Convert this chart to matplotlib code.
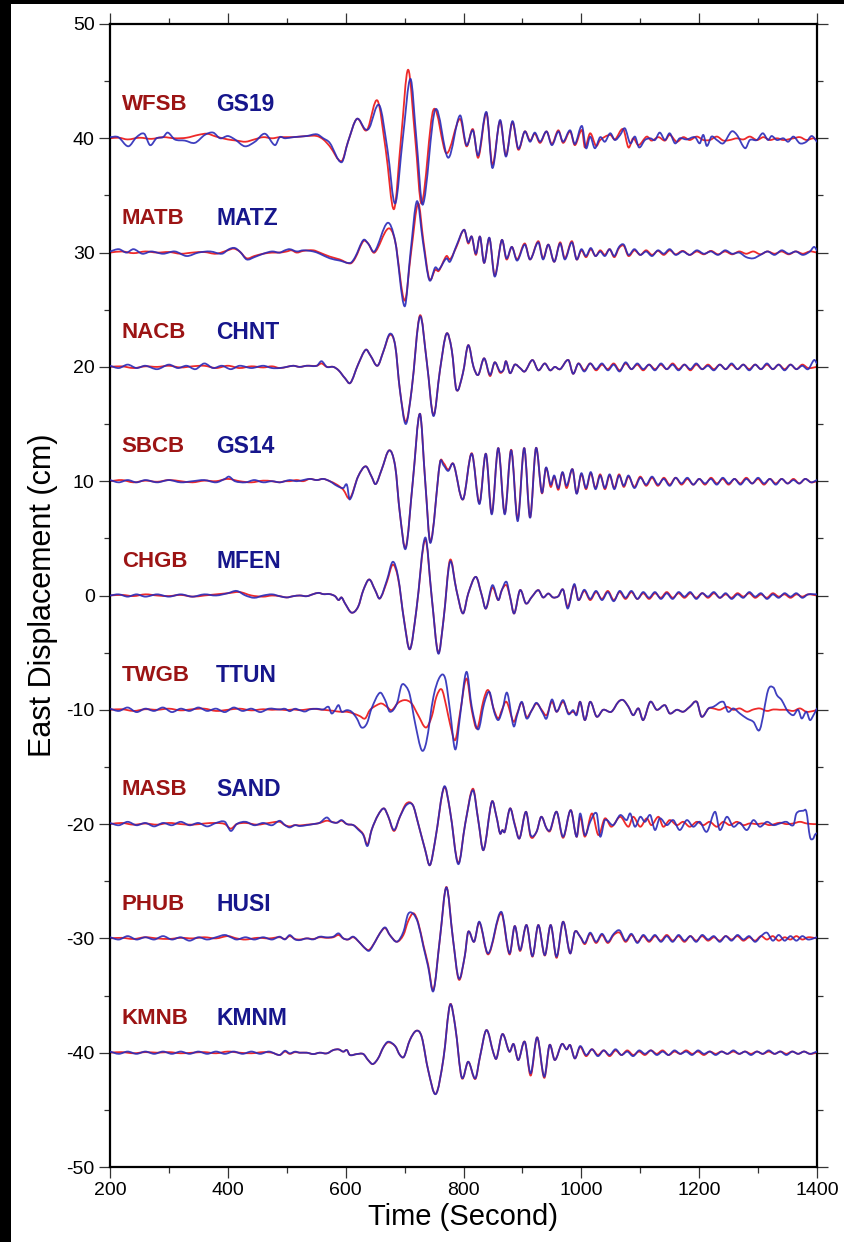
import matplotlib
matplotlib.use("Agg")
import matplotlib.pyplot as plt
import matplotlib.patches as mpatches
from matplotlib.path import Path
from matplotlib.ticker import MultipleLocator

plt.rcParams['font.family'] = ['Liberation Sans', 'DejaVu Sans']
plt.rcParams['axes.unicode_minus'] = False

# ---------------- data (time s, displacement cm relative to the trace baseline) -------------
offsets = [40, 30, 20, 10, 0, -10, -20, -30, -40]
red_names = ['WFSB', 'MATB', 'NACB', 'SBCB', 'CHGB', 'TWGB', 'MASB', 'PHUB', 'KMNB']
blue_names = ['GS19', 'MATZ', 'CHNT', 'GS14', 'MFEN', 'TTUN', 'SAND', 'HUSI', 'KMNM']

wfsb = [(200,0.0),(215,0.05),(230,-0.1),(250,0.05),(270,-0.05),(290,0.1),(310,0.0),(330,0.05),(350,0.3),(365,0.4),(380,0.15),(400,-0.1),(415,-0.2),(430,-0.3),(445,-0.1),(460,0.1),(475,0.0),
        (488,0.1),(511,0.1),(534,0.2),(551,0.2),(562,-0.1),(573,-0.7),(593,-2.0),(604,-0.3),(619,1.7),(633,0.7),(638,0.9),(654,3.3),(668,-1.0),(682,-6.2),(694,0.0),(706,6.0),(718,0.0),(729,-5.7),(749,2.5),(771,-1.3),(794,1.7),(805,-0.7),(816,0.8),(825,-1.7),(839,2.2),(849,-2.3),(862,1.5),(872,-1.5),(883,1.4),(893,-1.0),(904,0.6),(913,-0.2),(921,0.4),(930,-0.4),(941,0.6),(950,-0.5),(961,0.7),(969,-0.4),(981,0.6),(989,-0.6),
        (1001,0.73),(1006,-0.8),(1015,0.44),(1025,-0.67),(1032,-0.15),(1049,0.3),(1057,-0.1),(1071,0.8),(1080,-0.8),(1088,0.0),(1097,-0.6),(1111,0.15),(1119,-0.2),(1131,0.1),(1142,-0.2),(1150,0.3),(1162,-0.3),(1173,0.1),(1184,-0.15),(1196,0.15),(1207,-0.15),(1218,-0.15),(1230,0.15),(1241,-0.2),(1252,-0.15),(1264,0.0),(1275,-0.1),(1286,0.15),(1298,-0.15),(1309,0.1),(1320,-0.15),(1332,0.0),(1343,-0.15),(1360,0.0),(1371,0.1),(1382,-0.15),(1394,0.0),(1400,-0.15)]
gs19 = [(200,0.1),(214,0.1),(231,-0.7),(245,0.1),(258,0.4),(268,-0.6),(279,0.0),(290,0.1),(298,0.5),(310,-0.1),(327,-0.2),(344,-0.4),(361,0.3),(375,0.5),(387,0.0),(400,0.2),(412,-0.1),(429,-0.7),(446,-0.3),(463,0.4),(480,-0.6),
        (488,0.1),(497,0.0),(511,0.1),(534,0.2),(551,0.35),(562,0.0),(573,-0.4),(593,-2.1),(604,-0.3),(619,1.7),(633,0.8),(640,0.9),(657,2.9),(671,-1.0),(684,-5.7),(697,0.0),(710,5.2),(720,0.0),(731,-5.8),(752,2.5),(774,-1.7),(794,2.0),(805,-0.6),(816,0.7),(825,-1.5),(839,2.3),(849,-2.6),(862,1.6),(872,-1.6),(883,1.5),(893,-0.9),(904,0.6),(913,-0.3),(921,0.5),(930,-0.3),(941,0.6),(950,-0.6),(961,0.6),(969,-0.3),(981,0.7),(989,-0.5),
        (1001,1.08),(1008,-0.87),(1015,0.15),(1023,-0.87),(1032,0.1),(1040,-0.3),(1049,0.44),(1057,-0.15),(1066,0.3),(1074,0.87),(1083,-0.44),(1091,0.15),(1098,-0.8),(1108,-0.15),(1117,0.0),(1125,-0.15),(1133,0.5),(1142,-0.15),(1150,0.44),(1159,-0.44),(1167,0.0),(1179,-0.1),(1193,0.1),(1201,-0.44),(1207,0.3),(1213,-0.67),(1221,0.15),(1230,-0.15),(1241,-0.44),(1255,0.6),(1264,0.3),(1278,-0.87),(1286,-0.15),(1298,-0.15),(1308,0.44),(1317,-0.15),(1323,0.2),(1332,-0.15),(1343,0.0),(1351,-0.3),(1360,0.15),(1371,-0.44),(1382,-0.3),(1391,0.2),(1400,-0.3)]

matb = [(200,0.0),(220,0.1),(240,-0.05),(260,0.1),(280,0.0),(300,0.05),(320,-0.1),(340,0.0),(360,0.05),(380,-0.1),(400,0.2),(410,0.35),(420,0.1),(432,-0.5),(445,-0.3),(460,-0.1),(475,0.0),
        (488,0.0),(500,0.1),(508,0.2),(517,0.0),(528,0.15),(545,0.2),(556,0.0),(573,-0.35),(590,-0.6),(608,-0.95),(616,-0.5),(630,1.0),(638,0.8),(649,0.0),(672,2.1),(684,1.0),(700,-4.2),(711,0.0),(723,4.3),(732,1.0),(742,-2.3),(752,-1.5),(758,-1.6),(771,-0.3),(777,-0.6),(788,0.5),(801,2.0),(808,0.8),(814,1.4),(821,-0.2),(828,1.4),(835,-0.9),(844,1.25),(853,-2.0),(865,1.1),(873,-0.6),(882,0.5),(891,-0.6),(904,0.8),(913,-0.6),(927,1.0),(935,-0.5),(944,0.7),(954,-0.8),(964,0.9),(972,-0.5),(984,1.0),(992,-0.6),
        (1000,0.2),(1008,-0.4),(1016,0.3),(1024,-0.3),(1032,0.2),(1040,-0.2),(1048,0.3),(1056,-0.4),(1064,0.4),(1072,0.6),(1080,-0.3),(1090,0.2),(1100,-0.2),(1110,0.2),(1120,-0.2),(1130,0.15),(1140,-0.2),(1150,0.2),(1160,-0.15),(1172,0.15),(1184,-0.2),(1196,0.1),(1208,-0.15),(1220,0.15),(1232,-0.15),(1244,0.1),(1256,-0.15),(1268,0.1),(1280,-0.1),(1292,0.1),(1304,-0.15),(1316,0.1),(1328,-0.1),(1340,0.1),(1352,-0.15),(1364,0.1),(1376,-0.1),(1388,0.1),(1400,0.0)]
matz = [(200,0.1),(215,0.3),(228,0.0),(240,0.3),(255,-0.1),(270,0.1),(290,-0.1),(310,0.1),(330,-0.3),(350,0.0),(370,0.1),(390,-0.1),(402,0.3),(412,0.4),(422,0.0),(432,-0.6),(445,-0.4),(460,-0.1),(475,0.1),
        (488,0.0),(497,0.2),(505,0.3),(517,0.1),(528,0.2),(545,0.1),(556,-0.1),(573,-0.5),(590,-0.7),(608,-0.9),(616,-0.4),(630,1.1),(638,0.8),(649,0.1),(671,2.6),(684,1.0),(700,-4.7),(710,0.0),(721,4.5),(731,1.0),(742,-2.4),(752,-1.3),(758,-1.5),(771,-0.5),(777,-0.8),(788,0.6),(801,2.0),(808,0.9),(814,1.4),(821,-0.1),(828,1.4),(835,-0.9),(844,1.3),(853,-2.1),(865,1.1),(873,-0.5),(882,0.5),(891,-0.7),(904,0.7),(913,-0.6),(927,0.9),(935,-0.6),(944,0.7),(954,-0.8),(964,0.8),(972,-0.6),(984,0.9),(992,-0.6),
        (1000,0.3),(1008,-0.3),(1016,0.4),(1024,-0.3),(1032,0.1),(1040,-0.3),(1048,0.3),(1056,-0.3),(1064,0.5),(1072,0.7),(1080,-0.2),(1090,0.3),(1100,-0.2),(1110,0.1),(1120,-0.3),(1130,0.2),(1140,-0.1),(1150,0.3),(1160,-0.2),(1172,0.1),(1184,-0.2),(1196,0.2),(1208,-0.1),(1220,0.1),(1232,-0.2),(1244,0.2),(1256,-0.1),(1268,0.0),(1280,-0.4),(1292,-0.5),(1304,-0.2),(1316,0.1),(1328,-0.2),(1340,0.2),(1352,-0.1),(1364,0.1),(1376,-0.2),(1388,0.1),(1395,0.5),(1400,0.2)]

nacb = [(200,0.0),(220,0.05),(240,-0.1),(260,0.05),(280,0.0),(300,0.1),(320,-0.05),(340,0.05),(360,0.1),(380,-0.1),(400,0.1),(420,-0.1),(440,0.05),(460,-0.05),(475,0.05),
        (488,-0.1),(500,0.0),(511,0.1),(522,0.0),(534,0.1),(551,0.1),(559,0.3),(568,0.0),(579,0.0),(588,-0.3),(599,-1.0),(608,-1.4),(621,0.2),(634,1.5),(642,1.0),(654,0.1),(664,1.35),(675,2.8),(684,1.9),(692,-2.0),(702,-4.8),(712,-2.0),(726,4.5),(738,0.3),(749,-4.2),(760,-0.3),(771,2.9),(780,1.5),(788,-2.0),(799,-0.55),(808,1.9),(817,0.0),(825,-0.7),(835,0.75),(845,-0.8),(853,0.4),(862,-0.5),(868,-0.25),(872,0.5),(879,-0.55),(887,0.2),(896,-0.1),(904,-0.4),(917,0.6),(927,-0.3),(938,0.3),(947,-0.3),(955,0.0),(964,-0.2),(978,0.6),(986,-0.6),(995,0.3),
        (1005,-0.3),(1015,0.3),(1025,-0.3),(1035,0.2),(1045,-0.2),(1055,0.3),(1065,-0.3),(1075,0.3),(1085,-0.2),(1095,0.2),(1105,-0.3),(1115,0.2),(1125,-0.2),(1135,0.2),(1145,-0.2),(1155,0.3),(1165,-0.2),(1175,0.2),(1185,-0.3),(1195,0.2),(1205,-0.2),(1215,0.2),(1225,-0.2),(1235,0.2),(1245,-0.2),(1255,0.2),(1265,-0.2),(1275,0.2),(1285,-0.2),(1295,0.2),(1305,-0.2),(1315,0.2),(1325,-0.2),(1335,0.2),(1345,-0.2),(1355,0.2),(1365,-0.2),(1375,0.2),(1385,-0.1),(1400,0.0)]
chnt = [(200,0.1),(215,-0.1),(230,0.2),(245,-0.1),(260,0.1),(280,-0.2),(300,0.2),(315,-0.1),(330,0.1),(345,-0.2),(360,0.3),(375,-0.1),(390,0.1),(405,-0.2),(420,0.1),(440,-0.1),(460,0.1),(475,-0.1),
        (488,-0.1),(500,0.0),(511,0.1),(522,0.0),(534,0.1),(551,0.1),(559,0.5),(568,0.0),(579,0.0),(588,-0.3),(599,-1.0),(608,-1.4),(621,0.2),(634,1.5),(642,1.0),(654,0.1),(664,1.35),(675,2.9),(684,1.9),(692,-2.0),(702,-5.0),(712,-2.0),(726,4.4),(738,0.3),(749,-4.3),(760,-0.3),(771,2.9),(780,1.5),(788,-2.0),(799,-0.55),(808,1.9),(817,0.0),(825,-0.7),(835,0.75),(845,-0.7),(853,0.4),(862,-0.4),(868,-0.25),(872,0.5),(879,-0.55),(887,0.2),(896,-0.1),(904,-0.4),(917,0.6),(927,-0.3),(938,0.3),(947,-0.3),(955,0.0),(964,-0.2),(978,0.6),(986,-0.6),(995,0.3),
        (1005,-0.4),(1015,0.3),(1025,-0.2),(1035,0.3),(1045,-0.3),(1055,0.2),(1065,-0.4),(1075,0.4),(1085,-0.2),(1095,0.3),(1105,-0.2),(1115,0.2),(1125,-0.3),(1135,0.3),(1145,-0.2),(1155,0.2),(1165,-0.3),(1175,0.2),(1185,-0.2),(1195,0.3),(1205,-0.2),(1215,0.1),(1225,-0.3),(1235,0.2),(1245,-0.2),(1255,0.3),(1265,-0.2),(1275,0.2),(1285,-0.3),(1295,0.2),(1305,-0.2),(1315,0.3),(1325,-0.2),(1335,0.2),(1345,-0.3),(1355,0.2),(1365,-0.2),(1375,0.1),(1385,-0.2),(1395,0.6),(1400,0.3)]

sbcb = [(200,0.0),(220,0.1),(240,-0.1),(260,0.05),(280,-0.05),(300,0.1),(320,0.0),(340,-0.1),(360,0.05),(380,0.0),(400,0.2),(420,0.0),(440,-0.1),(460,0.05),(475,0.0),
        (488,-0.1),(497,0.0),(505,0.0),(517,0.1),(528,0.0),(539,0.2),(551,0.1),(562,0.2),(573,0.0),(585,-0.3),(596,-0.75),(607,-1.5),(621,0.4),(634,1.3),(644,0.4),(651,-0.25),(661,1.0),(674,2.7),(684,1.3),(692,-2.8),(702,-5.8),(714,0.0),(726,5.9),(735,0.0),(744,-5.3),(760,1.6),(766,1.6),(774,1.0),(783,1.5),(799,-1.6),(814,2.45),(827,-1.9),(838,2.4),(848,-2.8),(859,2.9),(870,-2.8),(881,2.75),(892,-3.3),(903,2.9),(913,-3.15),(923,2.9),(933,-1.05),(940,1.15),(948,-0.5),(954,0.4),(961,-0.75),(968,0.75),(975,-0.6),(985,1.05),(992,-1.05),
        (1000,0.6),(1008,-0.7),(1016,0.7),(1024,-0.6),(1032,0.6),(1040,-0.7),(1048,0.5),(1056,-0.6),(1064,0.6),(1072,-0.5),(1080,0.4),(1090,-0.5),(1100,0.4),(1110,-0.4),(1120,0.3),(1130,-0.4),(1140,0.3),(1150,-0.3),(1160,0.3),(1170,-0.3),(1180,0.2),(1190,-0.3),(1200,0.2),(1210,-0.3),(1220,0.3),(1230,-0.2),(1240,0.2),(1250,-0.3),(1260,0.2),(1270,-0.2),(1280,0.3),(1290,-0.2),(1300,0.2),(1310,-0.3),(1320,0.2),(1330,-0.2),(1340,0.2),(1350,-0.2),(1360,0.2),(1370,-0.2),(1380,0.2),(1390,-0.1),(1400,0.0)]
gs14 = [(200,0.1),(215,-0.1),(230,0.1),(245,-0.1),(260,0.1),(280,-0.1),(300,0.1),(320,-0.1),(340,0.0),(360,0.1),(380,-0.1),(395,0.2),(402,0.4),(412,0.0),(430,-0.1),(445,0.1),(460,-0.1),(475,0.0),
        (488,-0.1),(497,0.0),(505,0.1),(517,0.0),(528,0.1),(539,0.2),(551,0.1),(562,0.2),(573,0.0),(585,-0.4),(596,-0.6),(602,-0.3),(607,-1.6),(621,0.4),(634,1.3),(644,0.4),(651,-0.25),(661,1.0),(674,2.7),(684,1.3),(692,-2.8),(702,-5.9),(714,0.0),(726,5.9),(735,0.0),(744,-5.4),(760,1.6),(766,1.4),(774,0.9),(783,1.5),(799,-1.6),(814,2.4),(827,-2.0),(838,2.4),(848,-2.9),(859,2.9),(870,-2.9),(881,2.7),(892,-3.5),(903,2.9),(913,-3.2),(923,2.9),(933,-1.0),(940,1.2),(948,-0.3),(954,0.5),(961,-0.6),(968,0.8),(975,-0.4),(985,1.05),(992,-1.1),
        (1000,0.7),(1008,-0.6),(1016,0.8),(1024,-0.7),(1032,0.5),(1040,-0.6),(1048,0.6),(1056,-0.7),(1064,0.5),(1072,-0.4),(1080,0.5),(1090,-0.6),(1100,0.3),(1110,-0.3),(1120,0.4),(1130,-0.3),(1140,0.2),(1150,-0.4),(1160,0.3),(1170,-0.2),(1180,0.3),(1190,-0.3),(1200,0.2),(1210,-0.2),(1220,0.2),(1230,-0.3),(1240,0.3),(1250,-0.2),(1260,0.2),(1270,-0.3),(1280,0.2),(1290,-0.2),(1300,0.3),(1310,-0.2),(1320,0.2),(1330,-0.3),(1340,0.2),(1350,-0.2),(1360,0.1),(1370,-0.2),(1380,0.2),(1390,-0.1),(1400,0.1)]

chgb = [(200,0.0),(220,0.05),(240,-0.05),(260,0.1),(280,0.0),(300,-0.05),(320,0.05),(340,-0.1),(360,0.0),(380,0.1),(400,0.2),(420,0.3),(440,0.0),(460,-0.1),(475,0.0),
        (488,-0.06),(500,-0.17),(511,-0.06),(522,0.0),(534,-0.06),(545,0.12),(554,0.23),(562,0.12),(573,0.12),(582,-0.06),(588,-0.4),(593,-0.17),(599,-0.7),(610,-1.5),(621,-1.0),(630,0.47),(640,1.4),(650,0.47),(658,-0.26),(670,1.2),(680,2.7),(689,1.5),(699,-2.1),(709,-4.7),(720,-1.28),(735,4.9),(746,-0.12),(757,-5.0),(766,-2.16),(777,3.1),(788,0.47),(799,-1.57),(808,0.17),(821,1.63),(831,0.03),(838,-1.14),(849,0.7),(859,-0.4),(865,0.47),(873,0.9),(879,-0.12),(886,-1.57),(896,0.47),(906,-0.7),(916,-0.12),(927,0.47),(935,-0.17),(944,0.17),(952,-0.17),(961,-0.06),(969,0.52),(977,-1.0),(988,0.9),(995,-0.4),
        (1005,0.4),(1015,-0.4),(1025,0.3),(1035,-0.3),(1045,0.4),(1055,-0.4),(1065,0.3),(1075,-0.3),(1085,0.3),(1095,-0.3),(1105,0.2),(1115,-0.3),(1125,0.2),(1135,-0.2),(1145,0.3),(1155,-0.2),(1165,0.2),(1175,-0.2),(1185,0.2),(1195,-0.2),(1205,0.2),(1215,-0.2),(1225,0.2),(1235,-0.2),(1245,0.1),(1255,-0.2),(1265,0.2),(1275,-0.1),(1285,0.2),(1295,-0.2),(1305,0.1),(1315,-0.2),(1325,0.2),(1335,-0.1),(1345,0.1),(1355,-0.2),(1365,0.1),(1375,-0.1),(1385,0.1),(1400,0.0)]
mfen = [(200,0.0),(215,0.1),(230,-0.1),(245,0.1),(260,-0.1),(280,0.1),(300,-0.1),(320,0.1),(340,-0.1),(360,0.1),(380,0.0),(400,0.2),(415,0.4),(430,0.0),(445,-0.2),(460,0.0),(475,0.1),
        (488,-0.06),(500,-0.17),(511,-0.06),(522,0.0),(534,-0.06),(545,0.12),(554,0.23),(562,0.12),(573,0.12),(582,-0.06),(588,-0.4),(593,-0.17),(599,-0.7),(610,-1.5),(621,-1.0),(630,0.47),(640,1.4),(650,0.47),(658,-0.26),(670,1.34),(680,2.95),(689,1.63),(699,-2.16),(709,-4.7),(720,-1.28),(735,5.07),(746,-0.12),(757,-5.07),(766,-2.16),(777,2.95),(788,0.47),(799,-1.57),(808,0.17),(821,1.63),(831,0.03),(838,-1.14),(849,0.9),(859,-0.4),(865,0.47),(873,1.2),(879,-0.12),(886,-1.57),(896,0.47),(906,-0.7),(916,-0.12),(927,0.47),(935,-0.17),(944,0.17),(952,-0.17),(961,-0.06),(969,0.52),(977,-1.14),(988,1.0),(995,-0.4),
        (1005,0.5),(1015,-0.3),(1025,0.4),(1035,-0.4),(1045,0.3),(1055,-0.5),(1065,0.4),(1075,-0.2),(1085,0.4),(1095,-0.3),(1105,0.3),(1115,-0.2),(1125,0.3),(1135,-0.3),(1145,0.2),(1155,-0.3),(1165,0.3),(1175,-0.1),(1185,0.3),(1195,-0.3),(1205,0.2),(1215,-0.1),(1225,0.3),(1235,-0.2),(1245,0.2),(1255,-0.3),(1265,0.1),(1275,-0.2),(1285,0.3),(1295,-0.1),(1305,0.2),(1315,-0.3),(1325,0.1),(1335,-0.2),(1345,0.2),(1355,-0.1),(1365,0.2),(1375,-0.2),(1385,0.1),(1400,0.1)]

twgb = [(200,0.0),(220,0.05),(240,-0.1),(260,0.05),(280,0.0),(300,0.1),(320,-0.05),(340,0.05),(360,0.1),(380,-0.1),(400,0.0),(420,0.1),(440,-0.05),(460,0.05),(475,0.0),
        (488,0.03),(500,-0.03),(511,0.03),(522,-0.03),(534,0.03),(545,0.09),(556,0.03),(568,-0.03),(579,-0.09),(590,-0.17),(602,-0.17),(613,-0.32),(624,-0.55),(633,-0.76),(641,-0.03),(653,0.41),(661,0.55),(670,0.26),(678,-0.03),(689,0.61),(701,0.85),(712,0.55),(723,-0.47),(736,-1.55),(746,-0.61),(754,1.14),(763,1.78),(771,0.26),(777,-1.2),(786,-2.65),(794,-0.32),(805,2.74),(814,-0.03),(823,-1.63),(834,0.85),(842,1.72),(851,0.12),(859,-0.76),(865,-0.03),(873,0.7),(885,-1.05),(891,-0.32),(899,0.61),(907,-0.61),(916,-0.03),(924,0.55),(933,-0.03),(941,-0.47),(950,0.7),(958,-0.17),(969,0.7),(978,-0.26),(986,-0.17),(992,-0.32),
        (998,0.7),(1006,-0.9),(1015,0.7),(1026,-0.6),(1037,0.0),(1051,-0.17),(1063,0.7),(1071,0.85),(1080,0.26),(1088,-0.47),(1097,0.12),(1105,-0.9),(1117,0.7),(1128,0.0),(1142,0.4),(1150,-0.32),(1162,0.0),(1173,-0.17),(1184,0.26),(1196,0.7),(1204,-0.6),(1216,0.12),(1224,0.12),(1235,0.0),(1247,0.26),(1258,0.0),(1269,0.12),(1281,-0.17),(1292,0.03),(1303,0.12),(1315,-0.1),(1326,0.03),(1337,0.0),(1348,0.0),(1360,-0.1),(1371,0.12),(1382,-0.17),(1394,-0.1),(1400,0.0)]
ttun = [(200,0.1),(215,-0.1),(230,0.2),(245,-0.2),(260,0.1),(275,-0.1),(290,0.2),(305,-0.2),(320,0.1),(335,-0.1),(350,0.2),(365,-0.1),(380,0.1),(395,-0.2),(410,0.2),(425,-0.1),(440,0.1),(455,-0.2),(470,0.1),
        (488,0.03),(497,0.09),(505,-0.12),(514,0.09),(522,-0.03),(531,-0.15),(539,0.03),(551,0.09),(562,0.03),(571,0.26),(576,-0.32),(582,-0.03),(588,0.41),(593,-0.17),(602,-0.03),(610,-0.17),(619,-0.76),(627,-1.55),(636,-1.2),(644,0.12),(658,1.49),(667,0.85),(675,-0.17),(687,0.55),(695,2.16),(703,2.0),(709,1.28),(718,-1.2),(729,-3.53),(737,-2.8),(749,1.14),(760,2.89),(769,2.74),(777,-0.03),(786,-3.47),(794,-0.61),(805,3.32),(814,0.26),(825,-1.72),(835,0.55),(844,1.57),(852,-0.17),(859,-0.9),(866,-0.03),(874,1.49),(885,-1.43),(891,-0.47),(899,0.7),(907,-0.76),(916,-0.03),(924,0.61),(935,-0.32),(941,-0.76),(950,0.9),(958,-0.17),(969,0.85),(978,-0.38),(986,-0.03),(992,-0.47),
        (998,0.7),(1006,-0.9),(1015,0.7),(1026,-0.6),(1037,0.0),(1051,-0.17),(1063,0.7),(1071,0.85),(1080,0.26),(1088,-0.47),(1097,0.12),(1105,-0.9),(1117,0.7),(1128,0.0),(1142,0.4),(1150,-0.32),(1162,0.0),(1173,-0.17),(1184,0.26),(1196,0.7),(1204,-0.6),(1216,0.12),(1224,0.26),(1241,0.7),(1249,-0.17),(1258,0.12),(1269,-0.32),(1281,-0.76),(1292,-1.05),(1303,-1.72),(1317,1.72),(1326,1.95),(1332,1.28),(1340,0.85),(1346,0.26),(1351,-0.17),(1360,-0.47),(1368,0.0),(1374,-0.76),(1382,-0.17),(1388,-0.9),(1394,-0.47),(1400,0.12)]

masb = [(200,0.0),(220,0.1),(240,-0.05),(260,0.05),(280,-0.05),(300,0.1),(320,0.0),(340,-0.05),(360,0.05),(380,0.1),(395,0.0),(405,-0.4),(415,0.0),(430,0.1),(450,-0.05),(470,0.1),
        (488,0.2),(497,-0.09),(505,-0.2),(514,-0.09),(522,-0.12),(534,-0.05),(545,0.0),(556,0.1),(568,0.3),(576,0.2),(585,0.12),(593,0.3),(602,0.0),(613,-0.09),(621,-0.4),(630,-0.9),(637,-1.8),(644,-0.52),(655,0.79),(665,1.37),(672,0.7),(682,-0.6),(692,0.64),(703,1.8),(714,1.66),(723,0.06),(735,-2.27),(743,-3.59),(752,-1.4),(767,3.2),(777,1.22),(791,-3.4),(803,0.06),(816,3.1),(825,0.35),(834,-2.27),(848,1.95),(856,0.64),(862,-0.82),(866,-0.52),(870,-0.67),(879,1.37),(887,0.0),(895,-1.25),(906,1.08),(914,-1.1),(924,-0.67),(932,0.64),(941,-0.38),(947,-0.6),(958,1.08),(969,-1.2),(982,1.22),(992,-1.11),
        (998,0.64),(1006,-1.1),(1018,0.93),(1029,-0.96),(1040,0.5),(1051,-0.23),(1066,0.64),(1080,-0.23),(1088,0.64),(1100,-0.23),(1111,0.5),(1119,-0.09),(1131,0.64),(1139,-0.23),(1150,0.35),(1162,-0.09),(1173,0.2),(1184,-0.23),(1196,0.2),(1207,-0.09),(1218,0.2),(1230,-0.23),(1241,0.2),(1252,-0.09),(1264,0.2),(1275,-0.09),(1286,0.06),(1298,0.0),(1309,0.06),(1320,-0.09),(1337,0.12),(1348,0.0),(1360,0.06),(1371,0.2),(1382,0.06),(1394,0.0),(1400,0.0)]
sand = [(200,0.1),(215,-0.1),(230,0.2),(245,-0.1),(260,0.1),(275,-0.2),(290,0.1),(305,-0.1),(320,0.2),(335,-0.1),(350,0.1),(365,-0.2),(380,0.1),(395,0.2),(405,-0.6),(415,0.0),(430,0.2),(445,-0.1),(460,0.1),(475,-0.1),
        (488,0.29),(497,-0.09),(505,-0.29),(514,-0.09),(522,-0.17),(534,-0.09),(545,0.0),(556,0.12),(568,0.58),(576,0.2),(585,0.12),(593,0.35),(602,0.0),(613,-0.09),(621,-0.47),(630,-0.96),(637,-1.92),(644,-0.52),(655,0.79),(665,1.37),(672,0.7),(682,-0.52),(692,0.64),(703,1.66),(714,1.66),(723,0.06),(735,-2.27),(743,-3.59),(752,-1.4),(767,3.27),(777,1.22),(791,-3.5),(803,0.06),(816,2.97),(825,0.35),(834,-2.27),(848,1.95),(856,0.64),(862,-0.82),(866,-0.52),(870,-0.67),(879,1.37),(887,-0.09),(895,-1.25),(906,1.08),(914,-0.96),(924,-0.67),(932,0.64),(941,-0.38),(947,-0.52),(958,1.08),(969,-1.11),(982,1.22),(992,-1.11),
        (998,0.93),(1006,-0.96),(1015,0.2),(1026,0.93),(1032,-1.1),(1040,0.35),(1054,-0.09),(1066,0.79),(1077,0.35),(1083,0.93),(1091,-0.23),(1100,0.64),(1108,0.2),(1117,0.79),(1125,-0.52),(1133,0.5),(1145,-0.09),(1156,0.35),(1167,-0.52),(1179,0.35),(1190,-0.23),(1201,0.2),(1213,-0.67),(1227,1.08),(1235,-0.52),(1247,0.64),(1258,-0.23),(1269,0.12),(1281,-0.52),(1292,0.35),(1303,-0.23),(1315,0.2),(1326,-0.09),(1337,0.06),(1348,0.2),(1360,-0.09),(1365,0.93),(1377,1.17),(1382,1.08),(1388,-1.1),(1393,-1.3),(1397,-0.9),(1400,-0.8)]

phub = [(200,0.0),(220,0.05),(240,-0.05),(260,0.1),(280,0.0),(300,-0.05),(320,0.05),(340,0.0),(360,0.1),(380,0.0),(400,0.2),(415,0.0),(430,-0.1),(450,0.05),(470,0.0),
        (488,0.1),(497,-0.05),(505,0.2),(514,-0.05),(522,-0.1),(534,0.0),(545,-0.05),(556,0.1),(568,0.05),(579,0.1),(588,0.3),(596,0.0),(604,-0.1),(613,0.1),(624,-0.38),(633,-0.87),(640,-1.0),(650,-0.29),(658,0.44),(667,0.9),(675,0.29),(687,-0.29),(698,0.3),(706,1.5),(715,2.2),(723,1.4),(732,-0.6),(740,-2.3),(749,-4.5),(760,0.0),(771,4.5),(782,0.0),(792,-3.6),(802,-1.6),(808,0.58),(818,-0.29),(827,1.4),(842,-1.4),(864,2.2),(878,-1.4),(887,1.08),(896,-1.1),(907,1.17),(917,-1.6),(927,1.17),(938,-1.5),(948,1.17),(958,-1.7),(969,1.46),(981,-1.31),(989,0.58),(998,0.15),
        (1006,-0.5),(1015,0.4),(1025,-0.4),(1035,0.3),(1045,-0.4),(1055,0.3),(1065,0.5),(1075,-0.3),(1085,0.3),(1095,-0.3),(1105,0.2),(1115,-0.3),(1125,0.2),(1135,-0.2),(1145,0.3),(1155,-0.2),(1165,0.2),(1175,-0.3),(1185,0.2),(1195,-0.2),(1205,0.2),(1215,-0.2),(1225,0.1),(1235,-0.2),(1245,0.2),(1255,-0.1),(1265,0.2),(1275,-0.2),(1285,0.1),(1295,-0.2),(1305,0.2),(1315,-0.1),(1325,0.2),(1335,-0.2),(1345,0.1),(1355,-0.1),(1365,0.2),(1375,-0.1),(1385,0.1),(1400,0.0)]
husi = [(200,0.1),(215,-0.1),(230,0.2),(245,-0.1),(260,0.1),(275,-0.1),(290,0.2),(305,-0.1),(320,0.1),(335,-0.2),(350,0.1),(365,-0.1),(380,0.1),(395,0.3),(405,0.1),(415,-0.1),(430,0.1),(445,-0.1),(460,0.1),(475,-0.1),
        (488,0.15),(497,-0.09),(505,0.29),(514,-0.09),(522,-0.15),(534,0.0),(545,-0.09),(556,0.15),(568,0.09),(579,0.15),(588,0.44),(596,0.0),(604,-0.09),(613,0.15),(624,-0.38),(633,-0.87),(640,-1.08),(650,-0.29),(658,0.44),(667,0.96),(675,0.29),(687,-0.29),(698,0.58),(706,2.13),(715,2.13),(723,1.31),(732,-0.73),(740,-2.48),(749,-4.6),(760,0.0),(771,4.46),(782,0.0),(792,-3.5),(802,-1.6),(808,0.58),(818,-0.29),(827,1.46),(842,-1.31),(864,2.33),(878,-1.31),(887,1.08),(896,-1.02),(907,1.17),(917,-1.55),(927,1.17),(938,-1.46),(948,1.17),(958,-1.6),(969,1.46),(981,-1.31),(989,0.58),(998,0.15),
        (1006,-0.4),(1015,0.5),(1025,-0.3),(1035,0.4),(1045,-0.3),(1055,0.4),(1065,0.7),(1075,-0.2),(1085,0.4),(1095,-0.4),(1105,0.3),(1115,-0.2),(1125,0.3),(1135,-0.3),(1145,0.2),(1155,-0.3),(1165,0.3),(1175,-0.2),(1185,0.2),(1195,-0.3),(1205,0.3),(1215,-0.1),(1225,0.2),(1235,-0.3),(1245,0.2),(1255,-0.2),(1265,0.3),(1275,-0.1),(1285,0.2),(1295,-0.3),(1305,0.2),(1315,0.5),(1325,-0.2),(1335,0.3),(1345,-0.2),(1355,0.2),(1365,-0.2),(1375,0.2),(1385,-0.1),(1400,0.1)]

kmnb = [(200,0.0),(220,0.05),(240,-0.05),(260,0.05),(280,0.0),(300,0.05),(320,-0.05),(340,0.0),(360,0.05),(380,-0.05),(400,0.1),(420,0.0),(440,-0.05),(460,0.05),(475,0.0),
        (488,-0.2),(497,0.1),(505,-0.1),(514,0.05),(522,0.0),(534,0.0),(545,-0.12),(556,0.0),(568,-0.06),(579,0.23),(588,0.29),(596,0.09),(602,0.23),(607,-0.2),(619,-0.12),(630,-0.12),(638,-0.64),(646,-1.0),(655,-0.5),(664,0.47),(672,0.9),(684,0.58),(692,-0.2),(699,-0.35),(709,1.11),(720,1.92),(729,1.4),(740,-1.52),(753,-3.6),(766,-0.5),(777,4.2),(786,2.27),(797,-2.2),(808,-0.79),(820,-2.3),(828,-0.35),(839,1.98),(851,-0.06),(856,-0.5),(866,1.63),(878,0.09),(885,0.76),(893,-0.64),(904,0.96),(914,-2.0),(925,1.34),(937,-2.2),(946,0.67),(955,-0.64),(967,0.76),(975,0.29),(981,0.67),(989,-0.5),(998,0.5),
        (1008,-0.3),(1018,0.3),(1028,-0.2),(1038,0.2),(1048,-0.3),(1058,0.2),(1068,-0.2),(1078,0.2),(1088,-0.2),(1098,0.1),(1108,-0.2),(1118,0.2),(1128,-0.1),(1138,0.2),(1148,-0.2),(1158,0.1),(1168,-0.1),(1178,0.2),(1188,-0.1),(1198,0.1),(1208,-0.2),(1218,0.1),(1228,-0.1),(1238,0.1),(1248,-0.1),(1258,0.1),(1268,-0.1),(1278,0.1),(1288,-0.1),(1298,0.1),(1308,-0.1),(1318,0.1),(1328,-0.1),(1338,0.1),(1348,-0.1),(1358,0.1),(1368,-0.1),(1378,0.1),(1388,-0.1),(1400,0.0)]
kmnm = [(200,0.1),(215,-0.1),(230,0.1),(245,-0.1),(260,0.1),(275,-0.1),(290,0.1),(305,-0.1),(320,0.1),(335,-0.1),(350,0.1),(365,-0.1),(380,0.1),(395,-0.1),(410,0.1),(425,-0.1),(440,0.1),(455,-0.1),(470,0.1),
        (488,-0.2),(497,0.17),(505,-0.06),(514,0.09),(522,0.0),(534,0.0),(545,-0.12),(556,0.0),(568,-0.06),(579,0.23),(588,0.29),(596,0.09),(602,0.23),(607,-0.2),(619,-0.12),(630,-0.12),(638,-0.64),(646,-0.99),(655,-0.5),(664,0.47),(672,0.96),(684,0.58),(692,-0.2),(699,-0.35),(709,1.11),(720,1.92),(729,1.4),(740,-1.52),(753,-3.62),(766,-0.5),(777,4.17),(786,2.27),(797,-2.16),(808,-0.79),(820,-2.25),(828,-0.35),(839,1.98),(851,-0.06),(856,-0.5),(866,1.63),(878,0.09),(885,0.76),(893,-0.64),(904,0.96),(914,-1.81),(925,1.34),(937,-2.1),(946,0.67),(955,-0.64),(967,0.76),(975,0.29),(981,0.67),(989,-0.5),(998,0.58),
        (1008,-0.2),(1018,0.3),(1028,-0.3),(1038,0.2),(1048,-0.2),(1058,0.3),(1068,-0.2),(1078,0.1),(1088,-0.3),(1098,0.2),(1108,-0.1),(1118,0.2),(1128,-0.2),(1138,0.1),(1148,-0.2),(1158,0.2),(1168,-0.1),(1178,0.1),(1188,-0.2),(1198,0.2),(1208,-0.1),(1218,0.1),(1228,-0.2),(1238,0.1),(1248,-0.1),(1258,0.2),(1268,-0.1),(1278,0.1),(1288,-0.2),(1298,0.1),(1308,-0.1),(1318,0.2),(1328,-0.1),(1338,0.1),(1348,-0.2),(1358,0.1),(1368,-0.1),(1378,0.1),(1388,-0.1),(1400,0.1)]

red_traces = [wfsb, matb, nacb, sbcb, chgb, twgb, masb, phub, kmnb]
blue_traces = [gs19, matz, chnt, gs14, mfen, ttun, sand, husi, kmnm]

xticks = [200, 400, 600, 800, 1000, 1200, 1400]
yticks = [-50, -40, -30, -20, -10, 0, 10, 20, 30, 40, 50]

# ---------------- styling -----------------
RED_LINE = '#ee2a2a'
BLUE_LINE = '#2a2ab8'
RED_TEXT = '#9c1414'
BLUE_TEXT = '#16168c'


def smooth_path(ts, vs):
    """Cubic Hermite curve through the read samples, drawn as a Bezier path in data coordinates."""
    n = len(ts)
    slopes = []
    for i in range(n):
        a = max(i - 1, 0)
        b = min(i + 1, n - 1)
        slopes.append((vs[b] - vs[a]) / (ts[b] - ts[a]))
    verts = [(ts[0], vs[0])]
    codes = [Path.MOVETO]
    for i in range(n - 1):
        h = ts[i + 1] - ts[i]
        verts.append((ts[i] + h / 3, vs[i] + slopes[i] * h / 3))
        verts.append((ts[i + 1] - h / 3, vs[i + 1] - slopes[i + 1] * h / 3))
        verts.append((ts[i + 1], vs[i + 1]))
        codes += [Path.CURVE4] * 3
    return Path(verts, codes)


W, H = 844, 1242
fig = plt.figure(figsize=(W / 100, H / 100), dpi=100)
fig.patch.set_facecolor('white')
fig.patches.append(mpatches.Rectangle((0, 0), 11 / W, 1, transform=fig.transFigure,
                                      facecolor='black', edgecolor='none', zorder=0))
fig.patches.append(mpatches.Rectangle((0, 1 - 4 / H), 1, 4 / H, transform=fig.transFigure,
                                      facecolor='black', edgecolor='none', zorder=0))

ax = fig.add_axes([110 / W, 1 - 1167 / H, 707 / W, 1143 / H])

for off, r, b in zip(offsets, red_traces, blue_traces):
    tr, vr = zip(*r)
    tb, vb = zip(*b)
    pr = smooth_path(list(tr), [v + off for v in vr])
    pb = smooth_path(list(tb), [v + off for v in vb])
    ax.add_patch(mpatches.PathPatch(pr, facecolor='none', edgecolor=RED_LINE, lw=1.3, zorder=2,
                                    joinstyle='round', capstyle='round'))
    ax.add_patch(mpatches.PathPatch(pb, facecolor='none', edgecolor=BLUE_LINE, lw=1.3, zorder=3,
                                    alpha=0.9, joinstyle='round', capstyle='round'))

for off, rn, bn in zip(offsets, red_names, blue_names):
    ax.text(220, off + 3.0, rn, color=RED_TEXT, fontsize=16, fontweight='bold', va='center', ha='left')
    ax.text(380, off + 3.0, bn, color=BLUE_TEXT, fontsize=16.5, fontweight='bold', va='center', ha='left')

ax.set_xlim(200, 1400)
ax.set_ylim(-50, 50)
ax.set_xticks(xticks)
ax.set_yticks(yticks)
ax.xaxis.set_minor_locator(MultipleLocator(100))
ax.yaxis.set_minor_locator(MultipleLocator(5))
ax.tick_params(which='both', direction='out', top=True, right=True, labeltop=False, labelright=False,
               color='#333333', width=0.9, labelsize=14, pad=3)
ax.tick_params(which='major', length=8)
ax.tick_params(which='minor', length=4)
for s in ax.spines.values():
    s.set_linewidth(1.6)
    s.set_color('black')

ax.set_xlabel('Time (Second)', fontsize=21, labelpad=3)
ax.set_ylabel('East Displacement (cm)', fontsize=22, labelpad=6)

fig.savefig('out.png', dpi=100, facecolor='white')
